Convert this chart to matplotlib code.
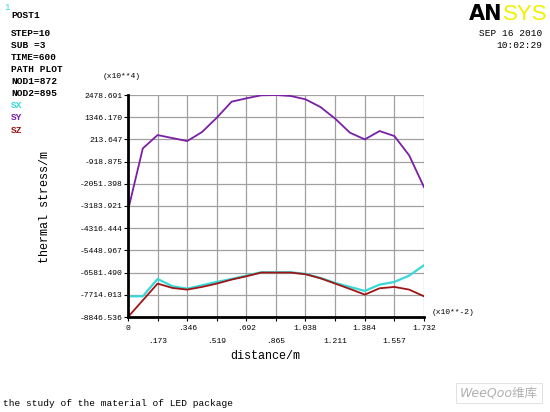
import matplotlib
matplotlib.use("Agg")
import matplotlib.pyplot as plt

# ── Path data (distance in x10**-2 m, stress in x10**4) ─────────
distance = [0.0, 0.0866, 0.1732, 0.2598, 0.3464, 0.4330, 0.5196, 0.6062,
            0.6928, 0.7794, 0.8660, 0.9526, 1.0392, 1.1258, 1.2124, 1.2990,
            1.3856, 1.4722, 1.5588, 1.6454, 1.7320]
sx = [-7790, -7790, -6905, -7279, -7399, -7228, -7058, -6905, -6734, -6564,
      -6564, -6564, -6649, -6854, -7109, -7313, -7518, -7194, -7058, -6734,
      -6207]
sy = [-3414, -246, 435, 282, 129, 589, 1321, 2138, 2309, 2462, 2478, 2427,
      2257, 1866, 1270, 554, 214, 640, 384, -604, -2222]
sz = [-8846, -7995, -7143, -7365, -7450, -7313, -7143, -6939, -6769, -6581,
      -6581, -6581, -6666, -6871, -7143, -7416, -7705, -7381, -7313, -7450,
      -7790]

y_ticks = [2478.691, 1346.170, 213.647, -918.875, -2051.398, -3183.921,
           -4316.444, -5448.967, -6581.490, -7714.013, -8846.536]
x_ticks = [0, 0.173, 0.346, 0.519, 0.692, 0.865, 1.038, 1.211, 1.384, 1.557, 1.732]
x_labels = ["0", ".173", ".346", ".519", ".692", ".865", "1.038", "1.211",
            "1.384", "1.557", "1.732"]
y_labels = ["2478.691", "1346.170", "213.647", "-918.875", "-2051.398",
            "-3183.921", "-4316.444", "-5448.967", "-6581.490", "-7714.013",
            "-8846.536"]

info_lines = ["STEP=10", "SUB =3", "TIME=600", "PATH PLOT", "NOD1=872", "NOD2=895"]

C_SX = "#38d8d8"
C_SY = "#7a1fa6"
C_SZ = "#a01414"
MONO = "Liberation Mono"

fig = plt.figure(figsize=(5.5, 4.12), dpi=100)
ax = fig.add_axes([128 / 550, 1 - 317 / 412, 296 / 550, 222 / 412])

ax.plot(distance, sx, color=C_SX, lw=1.6)
ax.plot(distance, sy, color=C_SY, lw=1.3)
ax.plot(distance, sz, color=C_SZ, lw=1.3)

ax.set_xlim(0, 1.732)
ax.set_ylim(-8846.536, 2478.691)
ax.set_xticks(x_ticks)
ax.set_yticks(y_ticks)
ax.set_yticklabels(y_labels, family=MONO, fontsize=5.8)
ax.set_xticklabels([])
ax.grid(True, color="#a0a0a0", lw=0.9)
ax.tick_params(axis="y", length=3, width=0.8, pad=1)
ax.tick_params(axis="x", length=3, width=0.8)
for side in ("top", "right"):
    ax.spines[side].set_visible(False)
ax.spines["left"].set_linewidth(2)
ax.spines["bottom"].set_linewidth(2)

# staggered x tick labels (offsets in points at 100 dpi)
for i, (xv, lab) in enumerate(zip(x_ticks, x_labels)):
    off = -8 if i % 2 == 0 else -17.5
    ax.annotate(lab, (xv, 0), xycoords=("data", "axes fraction"),
                xytext=(0, off), textcoords="offset points",
                ha="center", va="center", family=MONO, fontsize=5.8)

fig.text(265 / 550, 1 - 356 / 412, "distance/m", family=MONO, fontsize=8.5,
         ha="center", va="center")
fig.text(45 / 550, 1 - 207 / 412, "thermal stress/m", family=MONO, fontsize=8.5,
         rotation=90, ha="center", va="center")
fig.text(122 / 550, 1 - 77 / 412, "(x10**4)", family=MONO, fontsize=5.8,
         ha="center", va="center")
fig.text(432 / 550, 1 - 313 / 412, "(x10**-2)", family=MONO, fontsize=5.8,
         ha="left", va="center")

# left header block
fig.text(4 / 550, 1 - 7 / 412, "1", family=MONO, fontsize=6.5, color=C_SX,
         va="center")
fig.text(11 / 550, 1 - 16 / 412, "POST1", family=MONO, fontsize=6.8,
         weight="bold", va="center")
for i, line in enumerate(info_lines):
    fig.text(11 / 550, 1 - (34 + 12 * i) / 412, line, family=MONO,
             fontsize=6.8, weight="bold", va="center")
for i, (lab, c) in enumerate([("SX", C_SX), ("SY", C_SY), ("SZ", C_SZ)]):
    fig.text(11 / 550, 1 - (106 + 12 * i) / 412, lab, family=MONO,
             fontsize=6.8, weight="bold", color=c, va="center")

# logo and date
fig.text(502 / 550, 1 - 14 / 412, "AN", family="DejaVu Sans", fontsize=15,
         weight="bold", color="black", va="center", ha="right")
fig.text(503 / 550, 1 - 14 / 412, "SYS", family="Liberation Sans", fontsize=16,
         color="#f0f000", va="center", ha="left")
fig.text(542 / 550, 1 - 34 / 412, "SEP 16 2010", family=MONO, fontsize=6.8,
         ha="right", va="center")
fig.text(542 / 550, 1 - 46 / 412, "10:02:29", family=MONO, fontsize=6.8,
         ha="right", va="center")

fig.text(3 / 550, 1 - 404 / 412, "the study of the material of LED package",
         family=MONO, fontsize=6.8, va="center")
fig.text(499 / 550, 1 - 393 / 412, "WeeQoo维库",
         family=["DejaVu Sans", "Noto Sans CJK SC"], fontsize=9, style="italic",
         color="#b0b0b0", ha="center", va="center",
         bbox=dict(boxstyle="square,pad=0.3", fc="white", ec="#dddddd", lw=0.6))

fig.savefig("out.png", dpi=100)
